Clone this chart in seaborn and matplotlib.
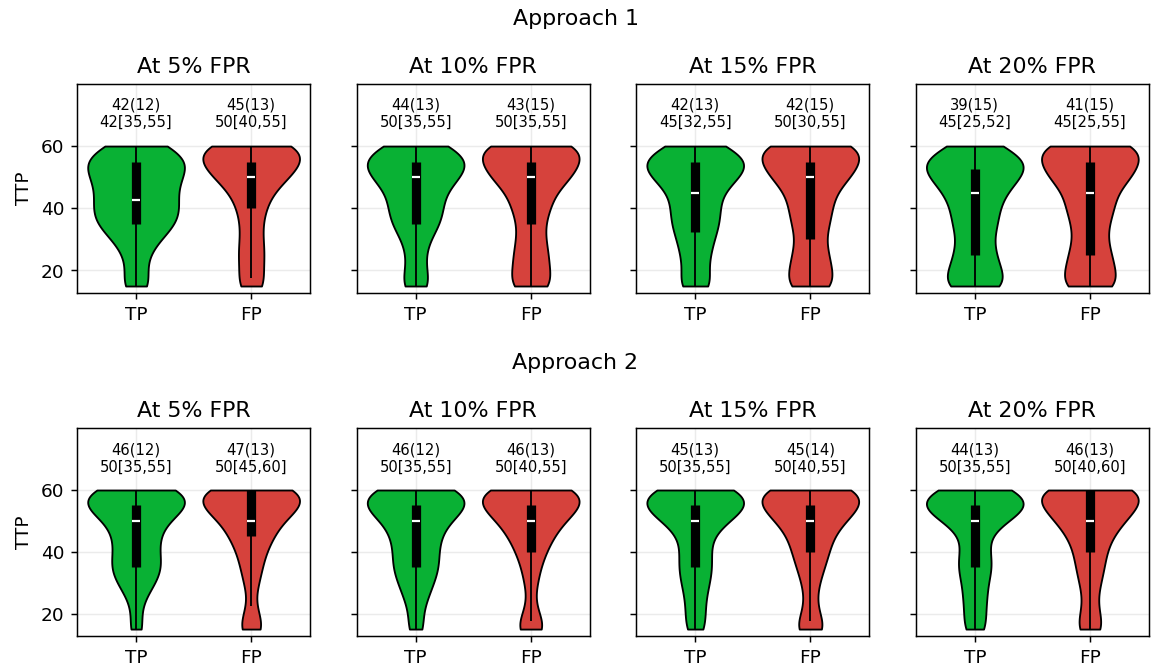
import numpy as np
import pandas as pd
import matplotlib.pyplot as plt
import seaborn as sns

fpr_levels = [5, 10, 15, 20]
classes = ['TP', 'FP']
ttp_bins = [15, 20, 25, 30, 35, 40, 45, 50, 55, 60]

# number of cases per TTP bin, one row per FPR level
a1_tp_counts = [[29, 19, 23, 45, 77, 82, 75, 85, 103, 65],
                [27, 18, 16, 24, 43, 47, 49, 76, 97, 62],
                [31, 20, 25, 31, 41, 41, 43, 74, 97, 53],
                [63, 48, 39, 32, 42, 44, 56, 84, 104, 51]]
a1_fp_counts = [[28, 21, 26, 22, 21, 28, 40, 72, 100, 100],
                [46, 36, 36, 29, 27, 39, 47, 82, 100, 109],
                [51, 42, 37, 28, 38, 43, 48, 79, 100, 107],
                [61, 49, 44, 33, 37, 49, 51, 83, 100, 107]]
a2_tp_counts = [[14, 7, 15, 35, 47, 40, 41, 54, 100, 89],
                [16, 11, 21, 32, 42, 40, 44, 59, 100, 87],
                [18, 17, 18, 25, 30, 27, 28, 57, 100, 84],
                [20, 17, 20, 21, 30, 25, 21, 52, 100, 72]]
a2_fp_counts = [[27, 14, 6, 15, 21, 28, 43, 59, 101, 105],
                [32, 15, 6, 13, 18, 29, 43, 63, 100, 102],
                [34, 16, 11, 17, 27, 36, 43, 66, 100, 104],
                [30, 19, 14, 22, 29, 33, 45, 70, 100, 117]]

# summary stats shown above the violins
a1_mean = {'TP': [42, 44, 42, 39], 'FP': [45, 43, 42, 41]}
a1_std = {'TP': [12, 13, 13, 15], 'FP': [13, 15, 15, 15]}
a1_median = {'TP': [42.5, 50, 45, 45], 'FP': [50, 50, 50, 45]}
a1_q1 = {'TP': [35, 35, 32.5, 25], 'FP': [40, 35, 30, 25]}
a1_q3 = {'TP': [55, 55, 55, 52.5], 'FP': [55, 55, 55, 55]}

a2_mean = {'TP': [46, 46, 45, 44], 'FP': [47, 46, 45, 46]}
a2_std = {'TP': [12, 12, 13, 13], 'FP': [13, 13, 14, 13]}
a2_median = {'TP': [50, 50, 50, 50], 'FP': [50, 50, 50, 50]}
a2_q1 = {'TP': [35, 35, 35, 35], 'FP': [45, 40, 40, 40]}
a2_q3 = {'TP': [55, 55, 55, 55], 'FP': [60, 55, 55, 60]}

colors = ['#09b134', '#d6423c']

approaches = [
    ('Approach 1', a1_tp_counts, a1_fp_counts, a1_mean, a1_std, a1_median, a1_q1, a1_q3),
    ('Approach 2', a2_tp_counts, a2_fp_counts, a2_mean, a2_std, a2_median, a2_q1, a2_q3),
]


def fixed_bw(kde):
    # same kernel width (4 minutes) for every violin
    return 4.0 / kde.dataset.std()


fig = plt.figure(figsize=(8.655, 5.008), dpi=133)

row_boxes = [(0.874, 0.56), (0.357, 0.045)]
title_y = [0.972, 0.455]
first_ax = None

for r, (name, tp_counts, fp_counts, mean, std, median, q1, q3) in enumerate(approaches):
    top, bottom = row_boxes[r]
    gs = fig.add_gridspec(1, 4, left=0.067, right=0.998, top=top, bottom=bottom, wspace=0.2)
    fig.text(0.5, title_y[r], name, ha='center', va='center', fontsize=12)
    for c, fpr in enumerate(fpr_levels):
        ax = fig.add_subplot(gs[0, c], sharey=first_ax)
        if first_ax is None:
            first_ax = ax
        df = pd.DataFrame({
            'cls': ['TP'] * sum(tp_counts[c]) + ['FP'] * sum(fp_counts[c]),
            'TTP': np.concatenate([np.repeat(ttp_bins, tp_counts[c]),
                                   np.repeat(ttp_bins, fp_counts[c])]),
        })
        sns.violinplot(data=df, x='cls', y='TTP', hue='cls', order=classes, hue_order=classes,
                       palette=colors, inner=None, cut=0, bw_method=fixed_bw, density_norm='width',
                       width=0.84, linewidth=1, linecolor='black', saturation=1, legend=False, ax=ax)
        for j, cls in enumerate(classes):
            vals = df.loc[df['cls'] == cls, 'TTP']
            lo_q, hi_q, med = q1[cls][c], q3[cls][c], median[cls][c]
            iqr = hi_q - lo_q
            lo_w = np.clip(lo_q - 1.5 * iqr, vals.min(), lo_q)
            hi_w = np.clip(hi_q + 1.5 * iqr, hi_q, vals.max())
            ax.vlines(j, lo_w, hi_w, color='black', lw=1, zorder=3)
            ax.vlines(j, lo_q, hi_q, color='black', lw=5, zorder=4)
            ax.hlines(med, j - 0.035, j + 0.035, color='white', lw=1.2, zorder=5)
            label = f"{mean[cls][c]:.0f}({std[cls][c]:.0f})\n{med:.0f}[{lo_q:.0f},{hi_q:.0f}]"
            ax.text(j, 70.3, label, ha='center', va='center', fontsize=8)
        ax.set_title(f'At {fpr}% FPR', fontsize=12)
        ax.set_xlabel('')
        ax.set_ylabel('TTP' if c == 0 else '')
        ax.set_ylim(12.75, 80)
        ax.set_yticks([20, 40, 60])
        if c > 0:
            ax.tick_params(labelleft=False)
        ax.grid(alpha=0.25)
        ax.set_axisbelow(True)

fig.savefig('out.png', dpi=133)
